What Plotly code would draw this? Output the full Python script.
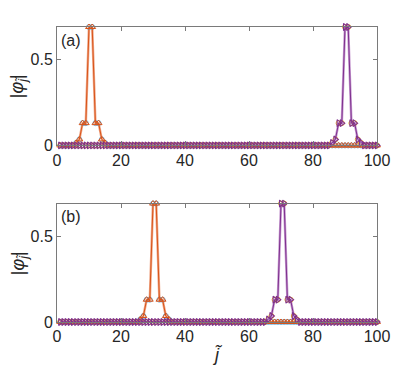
import plotly.graph_objects as go
from plotly.subplots import make_subplots

# site index
sites = list(range(1, 101))

# nonzero amplitudes |phi_j|, everything else is 0
left_a = {6: 0.015, 7: 0.035, 8: 0.13, 9: 0.13, 10: 0.69, 11: 0.69, 12: 0.13, 13: 0.13, 14: 0.035, 15: 0.015}
right_a = {86: 0.015, 87: 0.035, 88: 0.13, 89: 0.13, 90: 0.69, 91: 0.69, 92: 0.13, 93: 0.13, 94: 0.035, 95: 0.015}
left_b = {26: 0.015, 27: 0.035, 28: 0.13, 29: 0.13, 30: 0.69, 31: 0.69, 32: 0.13, 33: 0.13, 34: 0.035, 35: 0.015}
right_b = {66: 0.015, 67: 0.035, 68: 0.13, 69: 0.13, 70: 0.69, 71: 0.69, 72: 0.13, 73: 0.13, 74: 0.035, 75: 0.015}

x_ticks = [0, 20, 40, 60, 80, 100]
y_ticks = [0, 0.5]
panel_labels = ["(a)", "(b)"]
y_title = "|<i>φ</i><sub><i>j̃</i></sub>|"


def full(d):
    return [d.get(j, 0.0) for j in sites]


ORANGE = "#D95319"
ORANGE_LIGHT = "#EFA98A"
PURPLE = "#7E2F8E"
PURPLE_LIGHT = "#C79BD0"
BLUE = "#6FB3E0"
YELLOW = "#EDB120"
AXIS = "#7a7a7a"
TEXT = "#262626"
FONT = "Liberation Sans, Arial, sans-serif"

fig = make_subplots(rows=2, cols=1, vertical_spacing=0.197)

for row, (left, right) in enumerate([(left_a, right_a), (left_b, right_b)], start=1):
    # light wide lines with circle markers, dark thin lines with triangles on top
    fig.add_trace(go.Scatter(
        x=sites, y=full(left), mode="lines+markers",
        line=dict(color=ORANGE_LIGHT, width=2.5),
        marker=dict(symbol="circle-open", size=5, color=BLUE, line=dict(width=1)),
        cliponaxis=False, showlegend=False), row=row, col=1)
    fig.add_trace(go.Scatter(
        x=sites, y=full(left), mode="lines+markers",
        line=dict(color=ORANGE, width=1),
        marker=dict(symbol="triangle-up-open", size=6, color=ORANGE, line=dict(width=1)),
        cliponaxis=False, showlegend=False), row=row, col=1)
    fig.add_trace(go.Scatter(
        x=sites, y=full(right), mode="lines+markers",
        line=dict(color=PURPLE_LIGHT, width=2.5),
        marker=dict(symbol="circle-open", size=5, color=YELLOW, line=dict(width=1)),
        cliponaxis=False, showlegend=False), row=row, col=1)
    fig.add_trace(go.Scatter(
        x=sites, y=full(right), mode="lines+markers",
        line=dict(color=PURPLE, width=1),
        marker=dict(symbol="triangle-right-open", size=6, color=PURPLE, line=dict(width=1.1)),
        cliponaxis=False, showlegend=False), row=row, col=1)

fig.update_xaxes(
    range=[0, 100], tickvals=x_ticks, ticks="inside", ticklen=4, tickcolor=AXIS,
    showline=True, linecolor=AXIS, linewidth=1, mirror="ticks", showgrid=False,
    zeroline=False, automargin=False, tickfont=dict(family=FONT, size=16, color=TEXT))
fig.update_yaxes(
    range=[0, 0.69], tickvals=y_ticks, ticktext=["0", "0.5"], ticks="inside", ticklen=4,
    tickcolor=AXIS, showline=True, linecolor=AXIS, linewidth=1, mirror="ticks",
    showgrid=False, zeroline=False, automargin=False,
    tickfont=dict(family=FONT, size=16, color=TEXT))
fig.update_xaxes(title=dict(text="<i>j̃</i>", font=dict(family=FONT, size=18, color=TEXT),
                            standoff=4), row=2, col=1)

for lab, yp in zip(panel_labels, [1.0, 0.403]):
    fig.add_annotation(text=lab, xref="paper", yref="paper", x=0.005, y=yp - 0.01,
                       xanchor="left", yanchor="top", showarrow=False,
                       font=dict(family=FONT, size=16, color=TEXT))

# rotated y titles placed by hand, automargin is off
for yc in [0.80, 0.20]:
    fig.add_annotation(text=y_title, xref="paper", yref="paper", x=-0.118, y=yc,
                       xanchor="center", yanchor="middle", textangle=-90, showarrow=False,
                       font=dict(family=FONT, size=18, color=TEXT))

# page body adds 8px offset, so margins are shifted to keep the axes where the reference has them
fig.update_layout(
    width=415, height=373,
    margin=dict(l=49, r=46, t=19, b=59),
    plot_bgcolor="white", paper_bgcolor="white",
)

fig.write_html("out.html")
